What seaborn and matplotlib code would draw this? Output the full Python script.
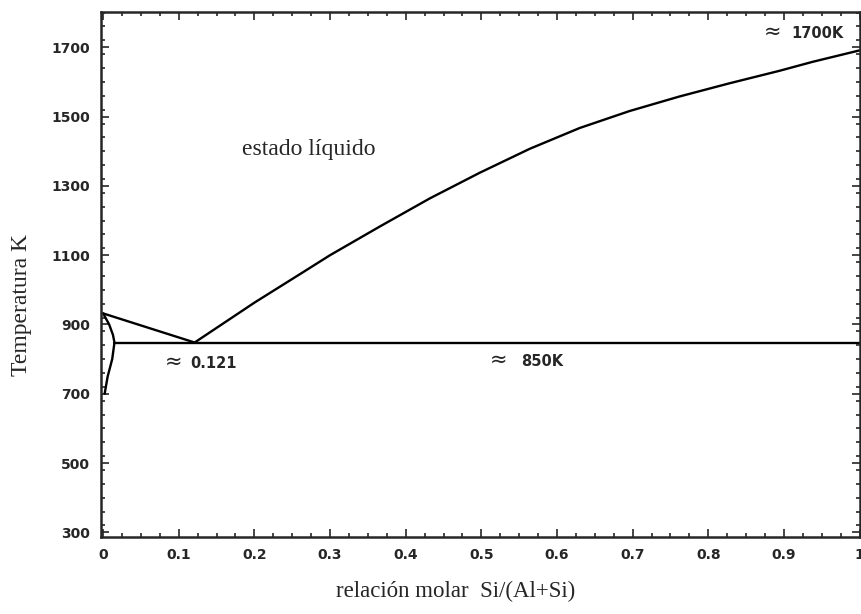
import matplotlib
matplotlib.use("Agg")
import matplotlib.pyplot as plt
from matplotlib.ticker import MultipleLocator
import seaborn as sns
import pandas as pd

# Data
liq_x = [0.0, 0.121, 0.2, 0.26, 0.3, 0.366, 0.432, 0.498, 0.564, 0.63, 0.696, 0.762, 0.828, 0.894, 0.938, 1.0]
liq_T = [932, 848, 963, 1045, 1100, 1183, 1264, 1338, 1407, 1467, 1516, 1558, 1596, 1632, 1658, 1691]
eut_x = [0.015, 1.0]
eut_T = [848, 848]
solv_x = [0.0, 0.008, 0.013, 0.015, 0.012, 0.006, 0.002]
solv_T = [932, 900, 870, 848, 800, 750, 700]
xticks = [0, 0.1, 0.2, 0.3, 0.4, 0.5, 0.6, 0.7, 0.8, 0.9, 1]
xticklabels = ["0", "0.1", "0.2", "0.3", "0.4", "0.5", "0.6", "0.7", "0.8", "0.9", "1"]
yticks = [300, 500, 700, 900, 1100, 1300, 1500, 1700]

sns.set_style("ticks")
plt.rcParams['font.family'] = ['DejaVu Sans']

fig = plt.figure(figsize=(8.62, 6.14), dpi=100)
ax = fig.add_axes([0.117, 0.125, 0.881, 0.855])

liq = pd.DataFrame({"x": liq_x, "T": liq_T})
eut = pd.DataFrame({"x": eut_x, "T": eut_T})
solv = pd.DataFrame({"x": solv_x, "T": solv_T})
for d in (liq, eut, solv):
    sns.lineplot(data=d, x="x", y="T", sort=False, color="black", lw=1.7, ax=ax, estimator=None)

ax.set_xlim(-0.003, 1.001)
ax.set_ylim(286, 1801)
ax.set_xticks(xticks)
ax.set_xticklabels(xticklabels)
ax.set_yticks(yticks)
ax.xaxis.set_minor_locator(MultipleLocator(0.025))
ax.yaxis.set_minor_locator(MultipleLocator(40))
ax.tick_params(which="both", direction="in", top=True, right=True, width=1.2)
ax.tick_params(which="major", length=6, labelsize=10)
ax.tick_params(which="minor", length=3)
for lab in ax.get_xticklabels() + ax.get_yticklabels():
    lab.set_fontweight("bold")
ax.tick_params(axis="x", pad=8)
ax.tick_params(axis="y", pad=8)
for s in ax.spines.values():
    s.set_linewidth(1.8)
ax.set_xlabel("")
ax.set_ylabel("")

fig.text(0.529, 0.037, "relación molar  Si/(Al+Si)", family="Liberation Serif", fontsize=16.5,
         ha="center", va="center")
fig.text(0.025, 0.503, "Temperatura K", family="Liberation Serif", fontsize=17,
         ha="center", va="center", rotation=90)

ax.text(0.184, 1405, "estado líquido", family="Liberation Serif", fontsize=17, ha="left", va="center")
ax.text(0.082, 792, "≈", fontsize=15, ha="left", va="center")
ax.text(0.115, 788, "0.121", fontsize=10.5, fontweight="bold", ha="left", va="center")
ax.text(0.511, 797, "≈", fontsize=15, ha="left", va="center")
ax.text(0.553, 794, "850K", fontsize=10.5, fontweight="bold", ha="left", va="center")
ax.text(0.874, 1744, "≈", fontsize=15, ha="left", va="center")
ax.text(0.910, 1740, "1700K", fontsize=10.5, fontweight="bold", ha="left", va="center")

fig.savefig("out.png", dpi=100)
